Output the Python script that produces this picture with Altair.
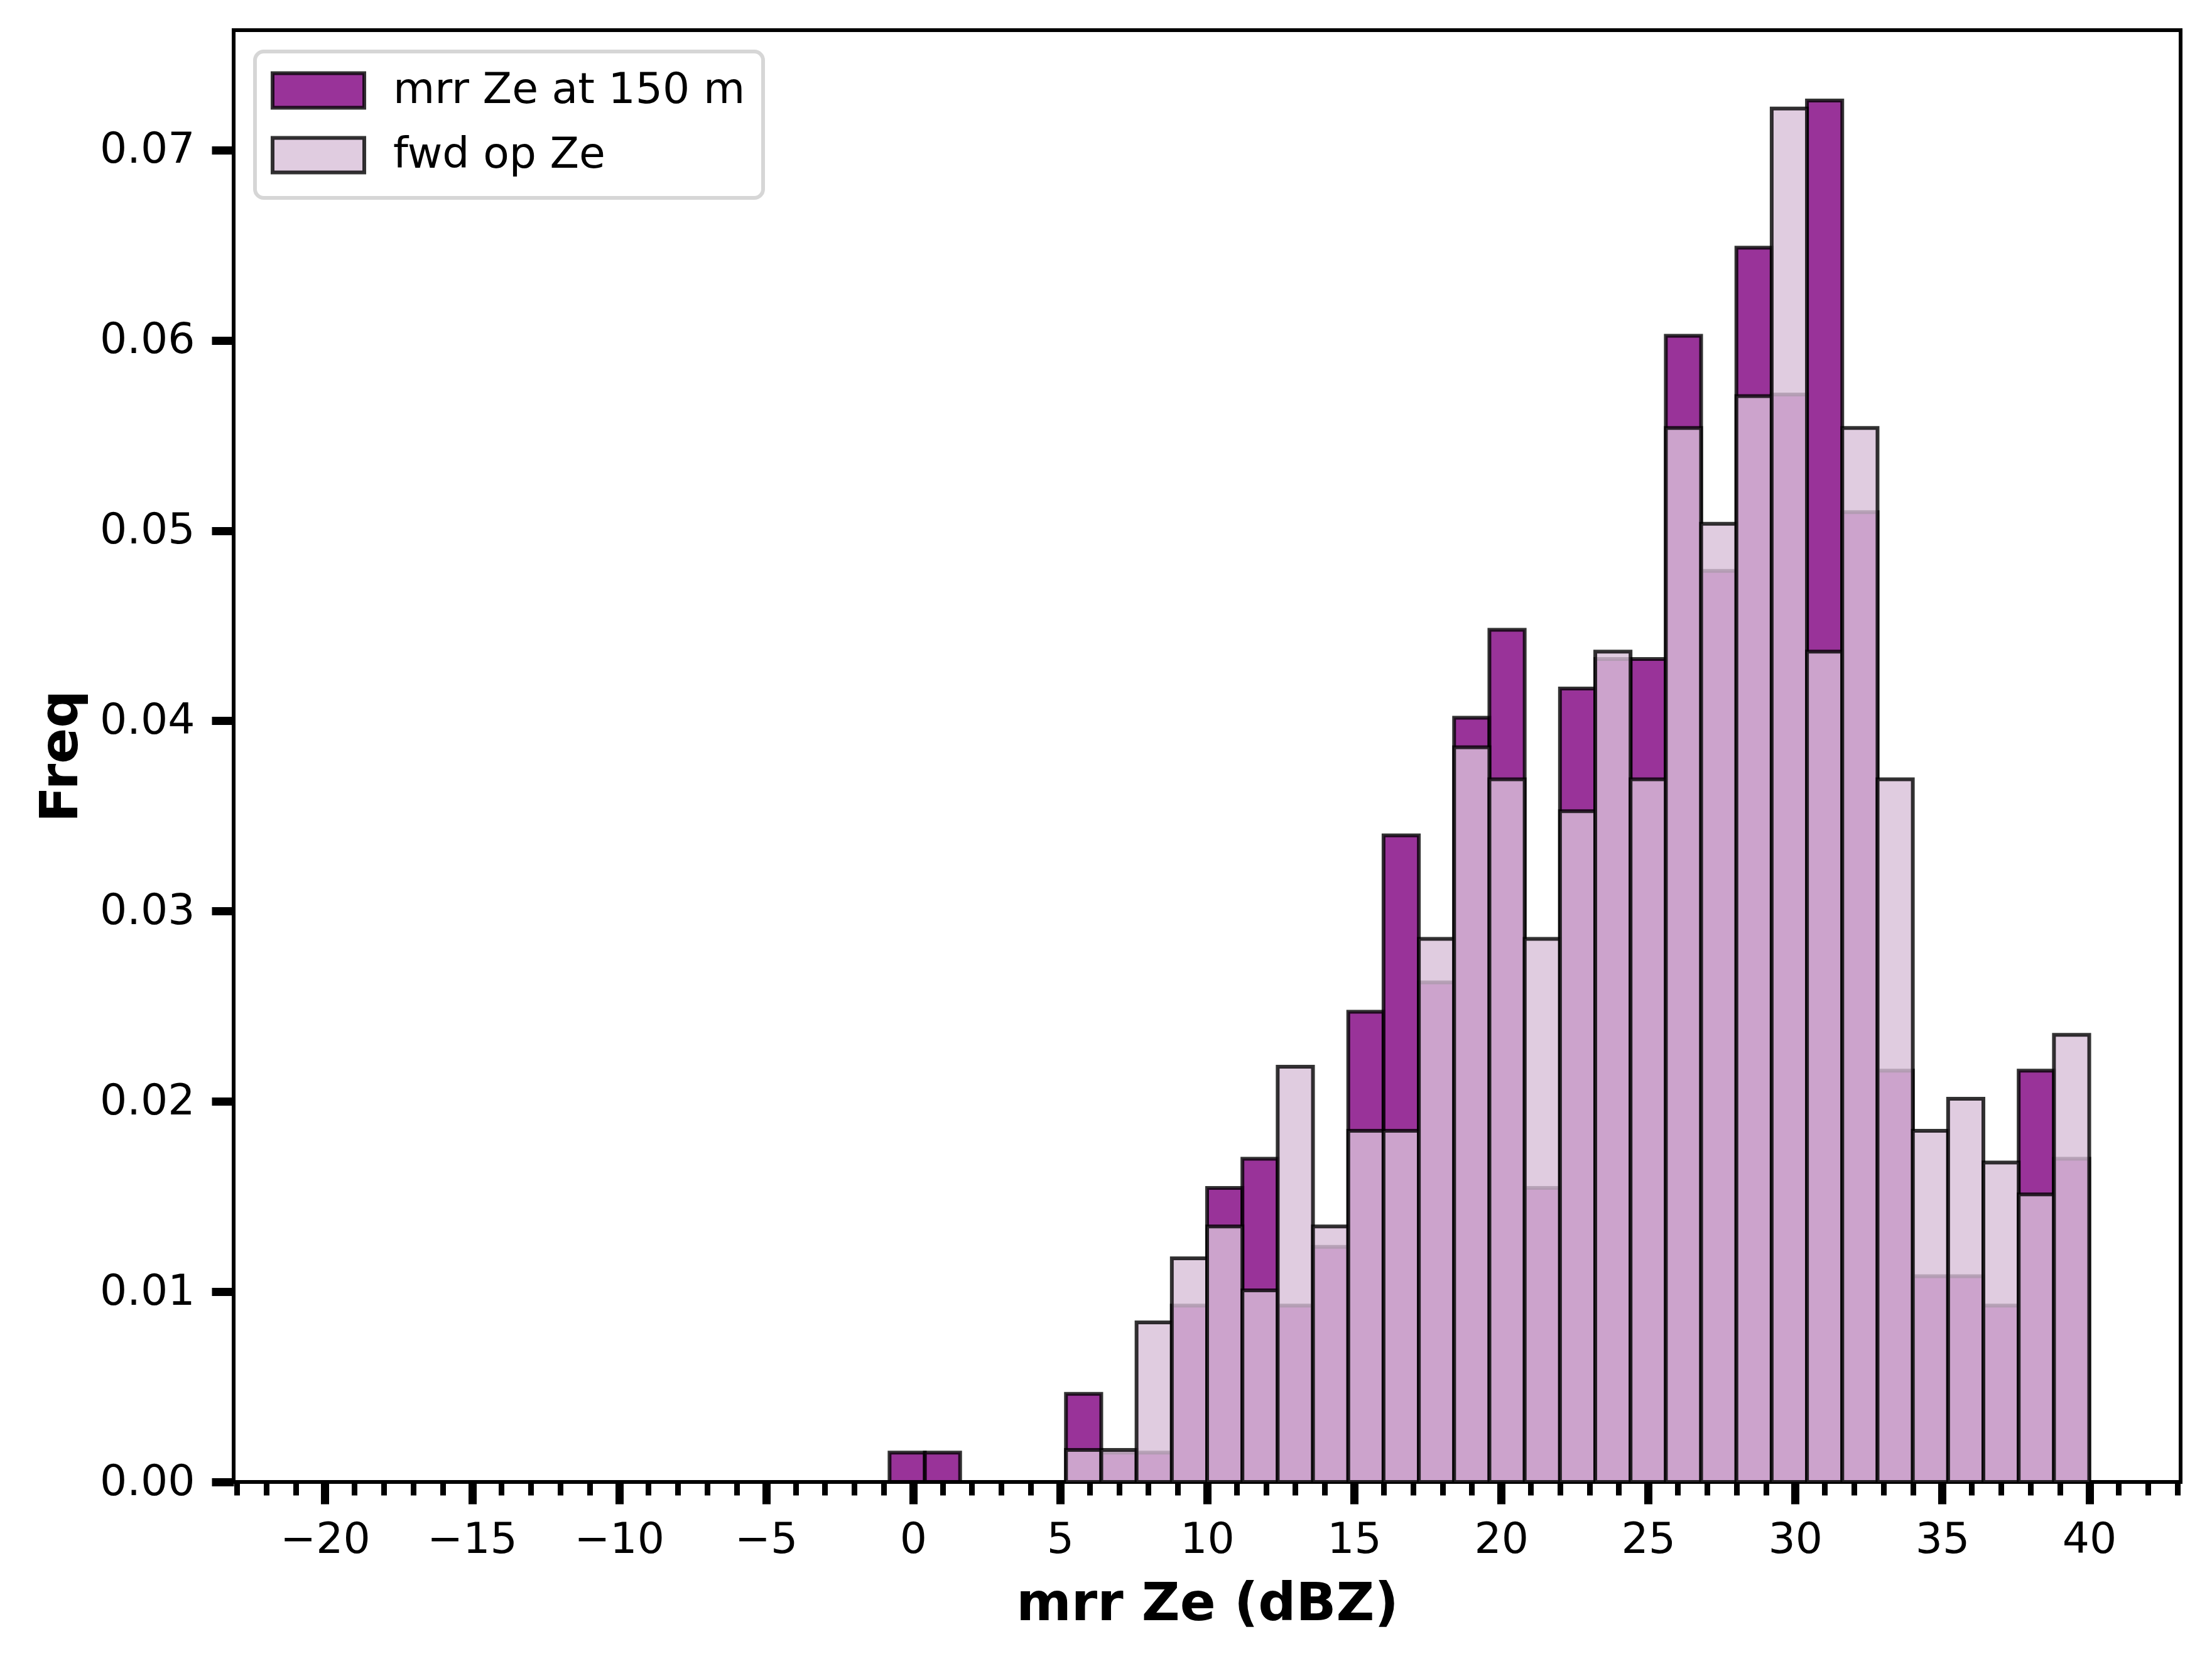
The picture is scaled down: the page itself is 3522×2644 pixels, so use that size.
import altair as alt
import pandas as pd

# bin edges (dBZ)
bin_start = [-0.8, 0.4, 1.6, 2.8, 4.0, 5.2, 6.4, 7.6, 8.8, 10.0, 11.2, 12.4, 13.6, 14.8, 16.0, 17.2,
             18.4, 19.6, 20.8, 22.0, 23.2, 24.4, 25.6, 26.8, 28.0, 29.2, 30.4, 31.6, 32.8, 34.0,
             35.2, 36.4, 37.6, 38.8]
bin_end = [0.4, 1.6, 2.8, 4.0, 5.2, 6.4, 7.6, 8.8, 10.0, 11.2, 12.4, 13.6, 14.8, 16.0, 17.2, 18.4,
           19.6, 20.8, 22.0, 23.2, 24.4, 25.6, 26.8, 28.0, 29.2, 30.4, 31.6, 32.8, 34.0, 35.2,
           36.4, 37.6, 38.8, 40.0]

mrr_freq = [0.00154, 0.00154, 0.0, 0.0, 0.0, 0.00463, 0.00154, 0.00154, 0.00927, 0.01545,
            0.01699, 0.00927, 0.01236, 0.02471, 0.03398, 0.02626, 0.04016, 0.04479, 0.01545,
            0.04170, 0.04325, 0.04325, 0.06024, 0.04788, 0.06487, 0.05715, 0.07260, 0.05097,
            0.02162, 0.01081, 0.01081, 0.00927, 0.02162, 0.01699]
fwd_freq = [0.0, 0.0, 0.0, 0.0, 0.0, 0.00168, 0.00168, 0.00839, 0.01175, 0.01343,
            0.01007, 0.02182, 0.01343, 0.01846, 0.01846, 0.02854, 0.03861, 0.03693, 0.02854,
            0.03525, 0.04364, 0.03693, 0.05539, 0.05036, 0.05707, 0.07218, 0.04364, 0.05539,
            0.03693, 0.01846, 0.02014, 0.01679, 0.01511, 0.02350]

series_names = ["mrr Ze at 150 m", "fwd op Ze"]
series_colors = ["rgba(128,0,128,0.8)", "rgba(216,191,216,0.8)"]

x_major = [-20, -15, -10, -5, 0, 5, 10, 15, 20, 25, 30, 35, 40]
x_minor = list(range(-23, 44))
y_ticks = [0.0, 0.01, 0.02, 0.03, 0.04, 0.05, 0.06, 0.07]

rows = []
for name, vals in zip(series_names, [mrr_freq, fwd_freq]):
    for s, e, v in zip(bin_start, bin_end, vals):
        rows.append({"series": name, "start": s, "end": e, "freq": v})
df = pd.DataFrame(rows)

xscale = alt.Scale(domain=[-23, 43], nice=False, zero=False)
yscale = alt.Scale(domain=[0, 0.0763], nice=False)
cscale = alt.Scale(domain=series_names, range=series_colors)

FONT = "DejaVu Sans"

major_x_axis = alt.Axis(values=x_major, orient="bottom", tickSize=35, tickWidth=13, tickColor="black",
                        labelFontSize=68, labelPadding=23, labelColor="black", labelFont=FONT,
                        title="mrr Ze (dBZ)", titleFontSize=84, titleFontWeight="bold", titleFont=FONT,
                        titleColor="black", titlePadding=27, domain=False, grid=False, zindex=1,
                        labelFlush=False)
minor_x_axis = alt.Axis(values=x_minor, orient="bottom", tickSize=21, tickWidth=9, tickColor="black",
                        labels=False, title=None, domain=False, grid=False, zindex=1)


def y_axis():
    return alt.Axis(values=y_ticks, format=".2f", orient="left", tickSize=35, tickWidth=13,
                    tickColor="black", labelFontSize=68, labelPadding=27, labelColor="black",
                    labelFont=FONT, title="Freq", titleFontSize=84, titleFontWeight="bold",
                    titleFont=FONT, titleColor="black", titlePadding=32, domain=False, grid=False,
                    zindex=1)


def legend():
    return alt.Legend(title=None, orient="none", legendX=34, legendY=34, padding=28,
                      fillColor="rgba(255,255,255,0.8)", strokeColor="#d6d6d6",
                      cornerRadius=14, labelFontSize=68, labelFont=FONT, labelColor="black",
                      labelLimit=1200, labelOffset=85, rowPadding=23,
                      symbolType="M-2.655,-1H2.655V1H-2.655Z", symbolSize=3025, symbolStrokeWidth=6,
                      symbolOffset=39, symbolStrokeColor="rgba(0,0,0,0.8)", symbolOpacity=1)


base = alt.Chart(df)

mrr_layer = base.transform_filter(alt.datum.series == series_names[0]).mark_bar(
    stroke="rgba(0,0,0,0.8)", strokeWidth=6, orient="vertical"
).encode(
    x=alt.X("start:Q", scale=xscale, axis=major_x_axis),
    x2="end:Q",
    y=alt.Y("freq:Q", scale=yscale, axis=y_axis(), stack=None),
    y2=alt.datum(0),
    color=alt.Color("series:N", scale=cscale, legend=legend()),
)

fwd_layer = base.transform_filter(alt.datum.series == series_names[1]).mark_bar(
    stroke="rgba(0,0,0,0.8)", strokeWidth=6, orient="vertical"
).encode(
    x=alt.X("start:Q", scale=xscale, axis=minor_x_axis),
    x2="end:Q",
    y=alt.Y("freq:Q", scale=yscale, axis=y_axis(), stack=None),
    y2=alt.datum(0),
    color=alt.Color("series:N", scale=cscale, legend=legend()),
)

chart = alt.layer(mrr_layer, fwd_layer).resolve_axis(x="independent").properties(
    width=3100, height=2311,
    autosize=alt.AutoSizeParams(type="none"),
    padding={"left": 364, "top": 40, "right": 42, "bottom": 277},
    background="white",
).configure(
    font=FONT,
    view=alt.ViewConfig(stroke="black", strokeWidth=6),
    legend=alt.LegendConfig(strokeWidth=6),
)

chart.save("out.html", embed_options={"renderer": "svg", "actions": False})
